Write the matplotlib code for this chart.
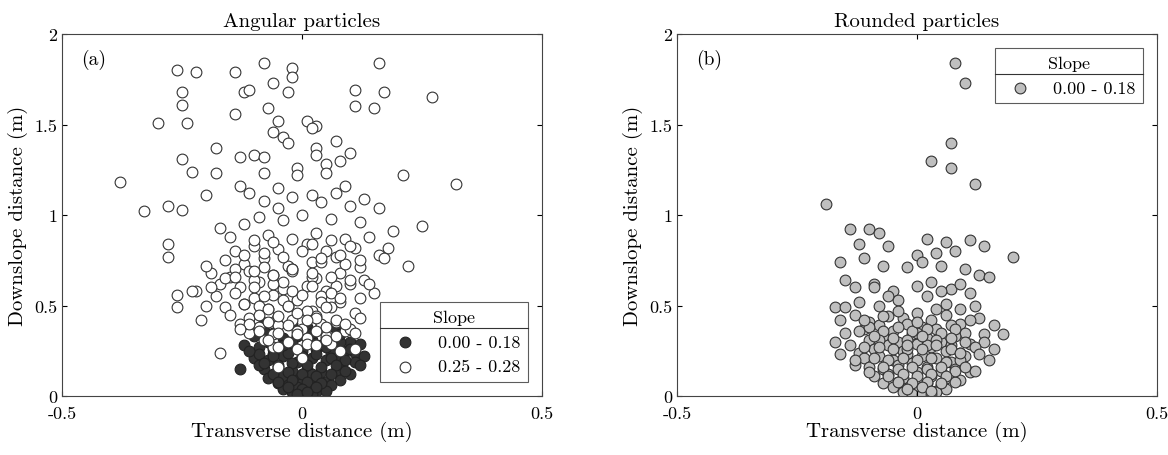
import matplotlib.pyplot as plt
import numpy as np

plt.rcParams['font.family'] = ['cmr10', 'DejaVu Serif']
plt.rcParams['axes.unicode_minus'] = False
plt.rcParams['axes.formatter.use_mathtext'] = True

# angular particles, slope 0.25 - 0.28 (white)
ang_hi_x = [-0.08, -0.26, -0.22, -0.14, -0.02, 0.16, -0.02, -0.06, -0.25, -0.12, -0.11, -0.03, 0.11, 0.17, 0.27,
            -0.25, -0.07, 0.11, 0.15, -0.30, -0.24, -0.14, -0.05, 0.01, 0.03, 0.02, -0.06, -0.04, 0.07, -0.03,
            -0.18, 0.03, -0.25, -0.13, -0.10, -0.08, 0.03, 0.08, 0.10, 0.05, -0.01, -0.01, -0.38, -0.23, -0.18,
            -0.08, 0.05, 0.21, 0.32, -0.13, -0.05, 0.09, -0.11, -0.02, 0.02, 0.07, 0.13, -0.20, -0.08, 0.04,
            -0.28, -0.33, -0.25, -0.05, 0.10, 0.16, 0.25, -0.28, -0.28, -0.17, -0.12, -0.09, -0.04, 0.00, 0.06,
            0.12, 0.19, -0.15, -0.07, 0.03, 0.09, 0.14, 0.18, -0.14, -0.10, -0.05, 0.01, 0.05, 0.11, 0.16,
            -0.16, -0.12, -0.08, -0.03, 0.02, 0.07, 0.12, 0.17, 0.22, -0.19, -0.15, -0.11, -0.06, -0.02, 0.03,
            0.08, 0.13, -0.17, -0.13, -0.09, -0.04, 0.01, 0.05, 0.10, 0.15, -0.22, -0.18, -0.14, -0.10, -0.06,
            -0.01, 0.04, 0.08, 0.12, -0.20, -0.16, -0.12, -0.07, -0.03, 0.02, 0.06, 0.11, -0.15, -0.11, -0.07,
            -0.02, 0.03, 0.07, 0.12, -0.13, -0.09, -0.05, 0.00, 0.04, 0.09, -0.26, -0.21, -0.17, -0.19, -0.23,
            -0.11, -0.06, -0.01, 0.05, 0.10, -0.08, -0.03, 0.01, 0.06, -0.06, -0.01, 0.03, 0.08, -0.16, -0.10,
            -0.04, 0.02, 0.07, -0.20, -0.14, -0.08, -0.02, 0.04, 0.09, 0.11, -0.26, -0.05, 0.00, -0.09,
            -0.10, -0.06, -0.02, 0.02, 0.06, -0.08, -0.04, 0.00, 0.04, 0.08, -0.12, -0.07, -0.03, 0.01, 0.05,
            -0.09, -0.05, -0.01, 0.03, 0.07, -0.11, -0.07, -0.03, 0.01, 0.05, 0.09, -0.13, -0.09, -0.05, -0.01,
            0.03, 0.07, 0.11, -0.14, -0.10, -0.06, -0.02, 0.02, 0.06, 0.10, 0.14, -0.12, -0.08, -0.04, 0.00,
            0.04, 0.08, 0.12, -0.10, -0.06, -0.02, 0.02, 0.06, 0.10, -0.07, -0.03, 0.01, 0.05, -0.05, 0.03]
ang_hi_y = [1.84, 1.80, 1.79, 1.79, 1.81, 1.84, 1.76, 1.73, 1.68, 1.68, 1.69, 1.68, 1.69, 1.68, 1.65,
            1.61, 1.59, 1.60, 1.59, 1.51, 1.51, 1.56, 1.52, 1.52, 1.49, 1.48, 1.46, 1.43, 1.41, 1.40,
            1.37, 1.37, 1.31, 1.32, 1.33, 1.32, 1.33, 1.30, 1.34, 1.28, 1.26, 1.22, 1.18, 1.24, 1.23,
            1.23, 1.23, 1.22, 1.17, 1.16, 1.15, 1.16, 1.12, 1.10, 1.11, 1.12, 1.09, 1.11, 1.08, 1.07,
            1.05, 1.02, 1.03, 1.04, 1.05, 1.04, 0.94, 0.84, 0.77, 0.93, 0.95, 0.99, 0.97, 1.00, 0.98,
            0.96, 0.91, 0.88, 0.89, 0.90, 0.87, 0.88, 0.82, 0.80, 0.83, 0.81, 0.84, 0.80, 0.82, 0.78,
            0.75, 0.73, 0.76, 0.72, 0.74, 0.77, 0.71, 0.76, 0.72, 0.68, 0.66, 0.69, 0.67, 0.70, 0.65,
            0.68, 0.64, 0.62, 0.60, 0.63, 0.59, 0.61, 0.58, 0.62, 0.57, 0.58, 0.55, 0.57, 0.54, 0.56,
            0.53, 0.55, 0.52, 0.54, 0.50, 0.49, 0.51, 0.48, 0.50, 0.47, 0.49, 0.46, 0.45, 0.43, 0.46,
            0.42, 0.44, 0.41, 0.43, 0.40, 0.38, 0.39, 0.37, 0.40, 0.36, 0.49, 0.42, 0.24, 0.60, 0.58,
            0.35, 0.34, 0.36, 0.33, 0.37, 0.31, 0.30, 0.32, 0.29, 0.27, 0.26, 0.28, 0.25, 0.65, 0.64,
            0.63, 0.66, 0.61, 0.72, 0.70, 0.71, 0.69, 0.74, 0.73, 0.26, 0.56, 0.16, 0.21, 0.50,
            0.60, 0.62, 0.58, 0.61, 0.57, 0.55, 0.53, 0.56, 0.52, 0.54, 0.51, 0.48, 0.50, 0.47, 0.49,
            0.45, 0.44, 0.46, 0.43, 0.42, 0.40, 0.41, 0.39, 0.42, 0.38, 0.40, 0.37, 0.36, 0.35, 0.34,
            0.36, 0.33, 0.35, 0.66, 0.69, 0.67, 0.70, 0.68, 0.66, 0.64, 0.62, 0.78, 0.79, 0.77, 0.80,
            0.76, 0.78, 0.75, 0.86, 0.85, 0.87, 0.84, 0.86, 0.83, 0.31, 0.30, 0.29, 0.31, 0.27, 0.28]

# angular particles, slope 0.00 - 0.18 (dark)
ang_lo_x = [-0.11, -0.08, -0.05, -0.02, 0.01, 0.04, 0.07, 0.10, 0.12, -0.10, -0.07, -0.04, -0.01, 0.02, 0.05,
            0.08, 0.11, -0.12, -0.09, -0.06, -0.03, 0.00, 0.03, 0.06, 0.09, 0.13, -0.10, -0.07, -0.04, -0.01,
            0.02, 0.05, 0.08, 0.11, -0.08, -0.05, -0.02, 0.01, 0.04, 0.07, 0.10, -0.07, -0.04, -0.01, 0.02,
            0.05, 0.08, -0.05, -0.03, 0.00, 0.03, 0.06, -0.04, -0.02, 0.01, 0.03, 0.05, -0.02, 0.00, 0.02,
            -0.01, 0.01, -0.06, -0.09, 0.09, 0.12, -0.13, -0.03, 0.04, 0.07, -0.06, 0.00, 0.06, -0.08, 0.02,
            -0.09, -0.06, -0.03, 0.00, 0.03, 0.06, 0.09, -0.08, -0.05, -0.02, 0.01, 0.04, 0.07, -0.06, -0.03,
            0.00, 0.03, 0.06, -0.05, -0.02, 0.01, 0.04, -0.03, 0.00, 0.03, -0.01, 0.01, -0.11, 0.10, -0.04,
            0.05, -0.07, 0.08, -0.02, 0.02]
ang_lo_y = [0.40, 0.41, 0.39, 0.40, 0.38, 0.39, 0.37, 0.30, 0.29, 0.33, 0.34, 0.32, 0.33, 0.31, 0.32,
            0.30, 0.24, 0.28, 0.27, 0.26, 0.27, 0.25, 0.26, 0.24, 0.25, 0.22, 0.21, 0.20, 0.22, 0.19,
            0.21, 0.20, 0.18, 0.19, 0.15, 0.16, 0.14, 0.15, 0.13, 0.14, 0.12, 0.10, 0.11, 0.09, 0.10,
            0.08, 0.09, 0.07, 0.06, 0.07, 0.05, 0.06, 0.04, 0.03, 0.04, 0.02, 0.03, 0.02, 0.03, 0.01,
            0.05, 0.02, 0.23, 0.17, 0.14, 0.17, 0.15, 0.29, 0.28, 0.20, 0.35, 0.36, 0.31, 0.36, 0.12,
            0.23, 0.22, 0.24, 0.22, 0.23, 0.21, 0.20, 0.18, 0.17, 0.18, 0.17, 0.16, 0.17, 0.12, 0.13,
            0.12, 0.11, 0.12, 0.08, 0.09, 0.08, 0.07, 0.05, 0.04, 0.05, 0.01, 0.02, 0.25, 0.26, 0.28,
            0.27, 0.30, 0.34, 0.30, 0.35]

# rounded particles, slope 0.00 - 0.18 (grey)
rnd_x = [0.08, 0.10, 0.07, 0.03, 0.07, 0.12, -0.19, -0.14, -0.10, -0.08, 0.11, 0.06, 0.02, -0.12, -0.06,
         0.00, 0.04, 0.08, 0.14, 0.20, -0.16, -0.11, -0.07, -0.02, 0.01, 0.05, 0.10, 0.13, -0.15, -0.13,
         -0.09, -0.05, 0.00, 0.03, 0.07, 0.11, 0.15, -0.17, -0.12, -0.08, -0.04, 0.02, 0.06, 0.09, 0.12,
         -0.16, -0.13, -0.10, -0.06, -0.03, 0.00, 0.03, 0.06, 0.09, 0.13, 0.16, -0.15, -0.11, -0.08, -0.05,
         -0.02, 0.01, 0.04, 0.07, 0.10, 0.14, -0.14, -0.10, -0.07, -0.04, -0.01, 0.02, 0.05, 0.08, 0.11,
         0.14, -0.12, -0.09, -0.06, -0.03, 0.00, 0.03, 0.06, 0.09, 0.12, -0.16, -0.11, -0.08, -0.05, -0.02,
         0.01, 0.04, 0.07, 0.10, 0.15, -0.13, -0.10, -0.07, -0.04, -0.01, 0.02, 0.05, 0.08, 0.11, -0.09,
         -0.06, -0.03, 0.00, 0.03, 0.06, 0.09, -0.07, -0.04, -0.01, 0.02, 0.05, 0.08, -0.05, -0.02, 0.01,
         0.04, 0.06, -0.03, 0.00, 0.02, 0.04, -0.01, 0.01, 0.03, -0.15, 0.16, -0.17, 0.18, -0.06, 0.05,
         -0.09, 0.09, -0.02, 0.02, -0.12, 0.12, -0.04, 0.04, 0.00, -0.07, 0.07,
         -0.10, -0.07, -0.04, -0.01, 0.02, 0.05, 0.08, -0.08, -0.05, -0.02, 0.01, 0.04, 0.07, 0.10, -0.11,
         -0.08, -0.05, -0.02, 0.01, 0.04, 0.07, -0.09, -0.06, -0.03, 0.00, 0.03, 0.06, 0.09, -0.07, -0.04,
         -0.01, 0.02, 0.05, 0.08, -0.06, -0.03, 0.00, 0.03, 0.06, -0.04, -0.01, 0.02, 0.05, -0.02, 0.01,
         0.03, -0.11, -0.09, 0.11, 0.09, -0.13, 0.13, -0.10, 0.10, 0.00]
rnd_y = [1.84, 1.73, 1.40, 1.30, 1.26, 1.17, 1.06, 0.92, 0.92, 0.90, 0.86, 0.85, 0.87, 0.84, 0.83,
         0.78, 0.79, 0.80, 0.83, 0.77, 0.74, 0.76, 0.72, 0.71, 0.74, 0.72, 0.70, 0.67, 0.64, 0.60,
         0.62, 0.58, 0.61, 0.63, 0.59, 0.57, 0.66, 0.49, 0.52, 0.50, 0.53, 0.55, 0.51, 0.48, 0.50,
         0.42, 0.45, 0.41, 0.44, 0.43, 0.46, 0.42, 0.45, 0.40, 0.43, 0.39, 0.35, 0.37, 0.39, 0.36,
         0.40, 0.38, 0.37, 0.39, 0.35, 0.34, 0.28, 0.31, 0.33, 0.30, 0.34, 0.32, 0.30, 0.33, 0.29,
         0.30, 0.24, 0.26, 0.28, 0.25, 0.29, 0.27, 0.25, 0.24, 0.27, 0.23, 0.21, 0.22, 0.20, 0.23,
         0.22, 0.21, 0.19, 0.22, 0.20, 0.17, 0.16, 0.15, 0.17, 0.18, 0.16, 0.14, 0.15, 0.13, 0.11,
         0.12, 0.10, 0.13, 0.11, 0.10, 0.09, 0.07, 0.08, 0.06, 0.07, 0.06, 0.08, 0.05, 0.04, 0.05,
         0.03, 0.04, 0.02, 0.03, 0.02, 0.02, 0.01, 0.01, 0.01, 0.49, 0.26, 0.30, 0.34, 0.55, 0.58,
         0.60, 0.62, 0.26, 0.28, 0.36, 0.14, 0.47, 0.48, 0.35, 0.44, 0.28,
         0.38, 0.36, 0.38, 0.36, 0.37, 0.35, 0.37, 0.31, 0.32, 0.31, 0.33, 0.31, 0.32, 0.30, 0.27,
         0.27, 0.26, 0.28, 0.26, 0.28, 0.26, 0.21, 0.20, 0.21, 0.20, 0.21, 0.19, 0.20, 0.16, 0.15,
         0.16, 0.15, 0.16, 0.14, 0.11, 0.12, 0.11, 0.12, 0.11, 0.08, 0.07, 0.08, 0.07, 0.04, 0.05,
         0.03, 0.42, 0.33, 0.42, 0.24, 0.20, 0.23, 0.13, 0.16, 0.41]

fig = plt.figure(figsize=(11.68, 4.56), dpi=100)
ax1 = fig.add_axes([62/1168, 59/456, 480/1168, 362/456])
ax2 = fig.add_axes([677/1168, 59/456, 480/1168, 362/456])

ax1.scatter(ang_lo_x, ang_lo_y, s=60, c='#333333', edgecolors='#222222', linewidths=0.8,
            label='0.00 - 0.18', zorder=2)
ax1.scatter(ang_hi_x, ang_hi_y, s=60, c='white', edgecolors='#333333', linewidths=0.8,
            label='0.25 - 0.28', zorder=3)
ax2.scatter(rnd_x, rnd_y, s=60, c='#bfbfbf', edgecolors='#333333', linewidths=0.8,
            label='0.00 - 0.18')

for ax, title, tag in [(ax1, 'Angular particles', '(a)'), (ax2, 'Rounded particles', '(b)')]:
    ax.set_xlim(-0.5, 0.5)
    ax.set_ylim(0, 2)
    ax.set_xticks([-0.5, 0, 0.5])
    ax.set_xticklabels(['-0.5', '0', '0.5'])
    ax.set_yticks([0, 0.5, 1, 1.5, 2])
    ax.set_yticklabels(['0', '0.5', '1', '1.5', '2'])
    ax.tick_params(direction='in', top=True, right=True, labelsize=13)
    ax.tick_params(axis='x', pad=7)
    ax.set_xlabel('Transverse distance (m)', fontsize=15, labelpad=0)
    ax.set_ylabel('Downslope distance (m)', fontsize=15)
    ax.set_title(title, fontsize=15, pad=6)
    ax.text(0.04, 0.93, tag, transform=ax.transAxes, fontsize=14, va='center')
    for sp in ax.spines.values():
        sp.set_color('#444444')

leg1 = ax1.legend(title='Slope', loc='lower right', fontsize=13, title_fontsize=13,
                  fancybox=False, edgecolor='#333333', borderaxespad=0.8)
leg2 = ax2.legend(title='Slope', loc='upper right', fontsize=13, title_fontsize=13,
                  fancybox=False, edgecolor='#333333', borderaxespad=0.8)

fig.canvas.draw()
for leg in (leg1, leg2):
    leg.get_frame().set_linewidth(0.8)
    bb = leg.get_window_extent()
    tb = leg.get_title().get_window_extent()
    yline = tb.y0 - 3
    fig.add_artist(plt.Line2D([bb.x0 / 1168, bb.x1 / 1168], [yline / 456, yline / 456],
                              color='#333333', linewidth=0.8))

fig.savefig('out.png', dpi=100)
